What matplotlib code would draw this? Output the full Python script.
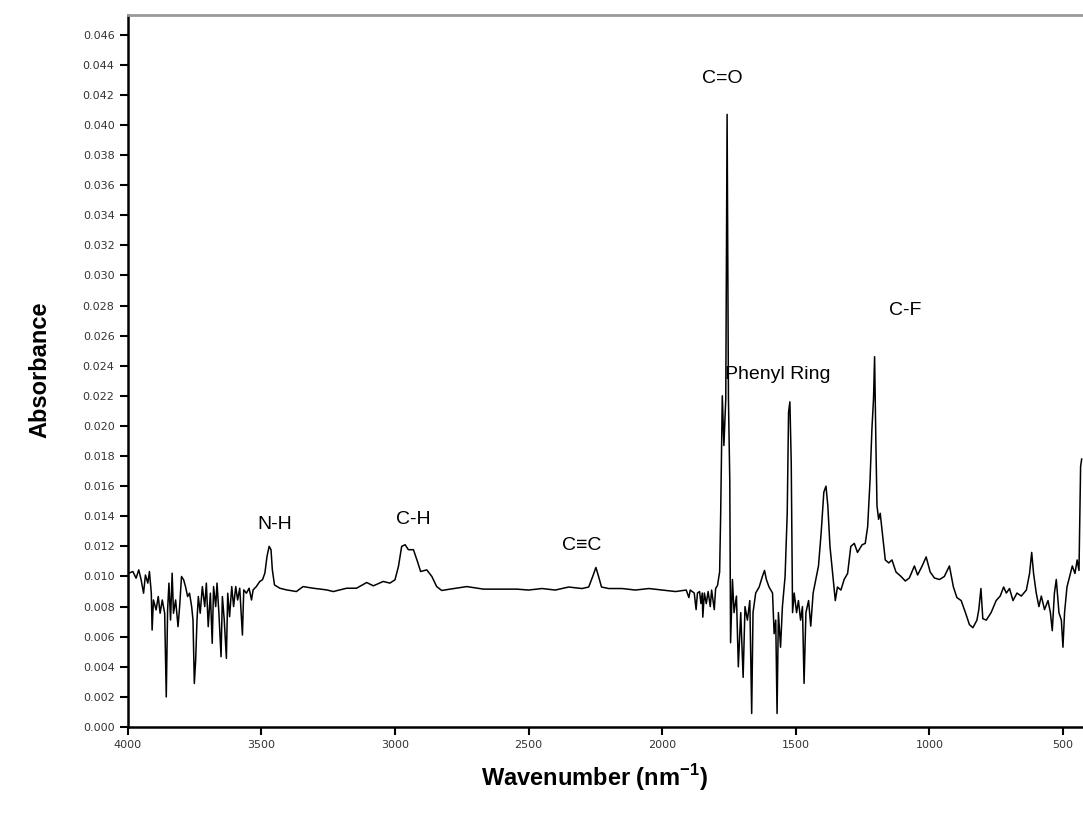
import numpy as np
import matplotlib.pyplot as plt

# spectrum (wavenumber, absorbance)
wavenumber = [
    3996, 3981, 3969, 3959, 3950, 3941, 3934, 3925, 3919, 3912, 3909, 3904,
    3894, 3886, 3879, 3871, 3862, 3856, 3851, 3846, 3840, 3834, 3829, 3821,
    3812, 3806, 3799, 3791, 3784, 3776, 3769, 3761, 3756, 3751, 3746, 3741,
    3736, 3729, 3721, 3712, 3706, 3699, 3691, 3684, 3679, 3671, 3666, 3659,
    3651, 3646, 3639, 3631, 3626, 3619, 3611, 3604, 3596, 3589, 3581, 3571,
    3566, 3556, 3546, 3537, 3531, 3519, 3506, 3496, 3487, 3479, 3471, 3464,
    3459, 3451, 3431, 3406, 3369, 3344, 3306, 3256, 3231, 3181, 3144, 3106,
    3081, 3044, 3019, 3000, 2987, 2975, 2962, 2950, 2931, 2916, 2904, 2881,
    2862, 2844, 2825, 2794, 2731, 2669, 2606, 2544, 2500, 2450, 2400, 2350,
    2300, 2275, 2260, 2248, 2238, 2227, 2200, 2150, 2100, 2050, 2000, 1950,
    1910, 1900, 1895, 1880, 1873, 1868, 1860, 1855, 1850, 1848, 1842, 1835,
    1828, 1820, 1815, 1805, 1800, 1793, 1785, 1781, 1775, 1769, 1762, 1757,
    1752, 1747, 1744, 1737, 1731, 1722, 1715, 1706, 1697, 1690, 1681, 1672,
    1665, 1660, 1650, 1637, 1625, 1617, 1610, 1600, 1587, 1581, 1575, 1570,
    1565, 1557, 1550, 1540, 1532, 1527, 1522, 1517, 1512, 1506, 1497, 1490,
    1482, 1475, 1469, 1462, 1452, 1444, 1435, 1425, 1415, 1405, 1395, 1387,
    1380, 1372, 1362, 1352, 1344, 1331, 1319, 1306, 1294, 1281, 1269, 1252,
    1240, 1231, 1222, 1215, 1209, 1205, 1200, 1196, 1190, 1184, 1175, 1165,
    1152, 1140, 1125, 1106, 1090, 1075, 1056, 1044, 1027, 1012, 997, 981,
    962, 944, 925, 910, 897, 881, 865, 850, 837, 822, 815, 807,
    800, 787, 769, 750, 735, 722, 712, 700, 687, 672, 656, 637,
    625, 617, 610, 600, 590, 581, 569, 556, 547, 540, 532, 525,
    515, 506, 500, 494, 485, 475, 465, 455, 447, 440, 434, 430,
]
absorbance = [
    0.01022, 0.01033, 0.00989, 0.01044, 0.00978, 0.00889, 0.01010, 0.00956, 0.01033, 0.00889, 0.00644, 0.00844,
    0.00778, 0.00867, 0.00756, 0.00844, 0.00756, 0.00200, 0.00778, 0.00956, 0.00711, 0.01022, 0.00756, 0.00844,
    0.00667, 0.00800, 0.01000, 0.00978, 0.00933, 0.00867, 0.00889, 0.00800, 0.00711, 0.00289, 0.00444, 0.00711,
    0.00867, 0.00756, 0.00933, 0.00800, 0.00956, 0.00667, 0.00889, 0.00556, 0.00933, 0.00800, 0.00956, 0.00756,
    0.00467, 0.00867, 0.00711, 0.00456, 0.00889, 0.00733, 0.00933, 0.00800, 0.00933, 0.00844, 0.00922, 0.00611,
    0.00911, 0.00889, 0.00922, 0.00844, 0.00911, 0.00933, 0.00967, 0.00978, 0.01022, 0.01133, 0.01200, 0.01178,
    0.01044, 0.00944, 0.00922, 0.00911, 0.00900, 0.00933, 0.00922, 0.00911, 0.00900, 0.00922, 0.00922, 0.00960,
    0.00938, 0.00967, 0.00956, 0.00978, 0.01067, 0.01200, 0.01211, 0.01178, 0.01178, 0.01100, 0.01033, 0.01044,
    0.01000, 0.00933, 0.00907, 0.00916, 0.00933, 0.00916, 0.00916, 0.00916, 0.00910, 0.00920, 0.00910, 0.00930,
    0.00920, 0.00930, 0.01000, 0.01060, 0.01000, 0.00930, 0.00920, 0.00920, 0.00910, 0.00920, 0.00910, 0.00900,
    0.00910, 0.00860, 0.00910, 0.00890, 0.00780, 0.00890, 0.00900, 0.00820, 0.00890, 0.00730, 0.00890, 0.00820,
    0.00900, 0.00800, 0.00910, 0.00780, 0.00920, 0.00940, 0.01030, 0.01420, 0.02200, 0.01870, 0.02180, 0.04070,
    0.02180, 0.01640, 0.00560, 0.00980, 0.00760, 0.00870, 0.00400, 0.00760, 0.00330, 0.00800, 0.00710, 0.00840,
    0.00090, 0.00760, 0.00890, 0.00930, 0.01000, 0.01040, 0.00980, 0.00930, 0.00890, 0.00620, 0.00710, 0.00090,
    0.00760, 0.00530, 0.00800, 0.01000, 0.01420, 0.02090, 0.02160, 0.01760, 0.00760, 0.00890, 0.00760, 0.00840,
    0.00710, 0.00800, 0.00290, 0.00760, 0.00840, 0.00670, 0.00890, 0.00980, 0.01070, 0.01290, 0.01560, 0.01600,
    0.01470, 0.01200, 0.01020, 0.00840, 0.00930, 0.00910, 0.00980, 0.01020, 0.01200, 0.01220, 0.01160, 0.01210,
    0.01220, 0.01330, 0.01640, 0.01980, 0.02180, 0.02460, 0.01870, 0.01470, 0.01380, 0.01420, 0.01270, 0.01110,
    0.01090, 0.01110, 0.01030, 0.01000, 0.00970, 0.00990, 0.01070, 0.01010, 0.01070, 0.01130, 0.01030, 0.00990,
    0.00980, 0.01000, 0.01070, 0.00930, 0.00860, 0.00840, 0.00760, 0.00680, 0.00660, 0.00710, 0.00780, 0.00920,
    0.00720, 0.00710, 0.00760, 0.00840, 0.00870, 0.00930, 0.00890, 0.00920, 0.00840, 0.00890, 0.00870, 0.00910,
    0.01020, 0.01160, 0.01020, 0.00890, 0.00800, 0.00870, 0.00780, 0.00840, 0.00760, 0.00640, 0.00890, 0.00980,
    0.00760, 0.00710, 0.00530, 0.00760, 0.00930, 0.01000, 0.01070, 0.01020, 0.01110, 0.01040, 0.01730, 0.01780,
]

# peak labels: text, wavenumber, absorbance
label_text = ['N-H', 'C-H', 'C\u2261C', 'C=O', 'Phenyl Ring', 'C-F']
label_x = [3450, 2933, 2300, 1776, 1566, 1091]
label_y = [0.01343, 0.01376, 0.01203, 0.04308, 0.0234, 0.02765]

x_ticks = [4000, 3500, 3000, 2500, 2000, 1500, 1000, 500]
y_ticks = np.arange(0, 0.0461, 0.002)

fig = plt.figure(figsize=(10.83, 8.19), dpi=100)
ax = fig.add_axes([0.118, 0.1123, 0.882, 0.8694])

ax.plot(wavenumber, absorbance, color='black', lw=1.1)

ax.set_xlim(4000, 425)
ax.set_ylim(0, 0.0473)
ax.set_xticks(x_ticks)
ax.set_yticks(y_ticks)
ax.set_yticklabels(['%.3f' % v for v in y_ticks])

ax.tick_params(direction='out', length=6, width=1.5, labelsize=8, labelcolor='#333333')
for name in ['left', 'bottom']:
    ax.spines[name].set_linewidth(1.8)
ax.spines['top'].set_color('#999999')
ax.spines['top'].set_linewidth(2)
ax.spines['right'].set_visible(False)

for t, x, y in zip(label_text, label_x, label_y):
    ax.text(x, y, t, ha='center', va='center', fontsize=14, family='Liberation Sans')

fig.text(0.037, 0.548, 'Absorbance', rotation=90, ha='center', va='center',
         fontsize=17, fontweight='bold', family='Liberation Sans')
fig.text(0.549, 0.051, 'Wavenumber (nm$^{\\mathregular{-1}}$)', ha='center', va='center',
         fontsize=17, fontweight='bold', family='Liberation Sans')

fig.savefig('out.png', dpi=100)
